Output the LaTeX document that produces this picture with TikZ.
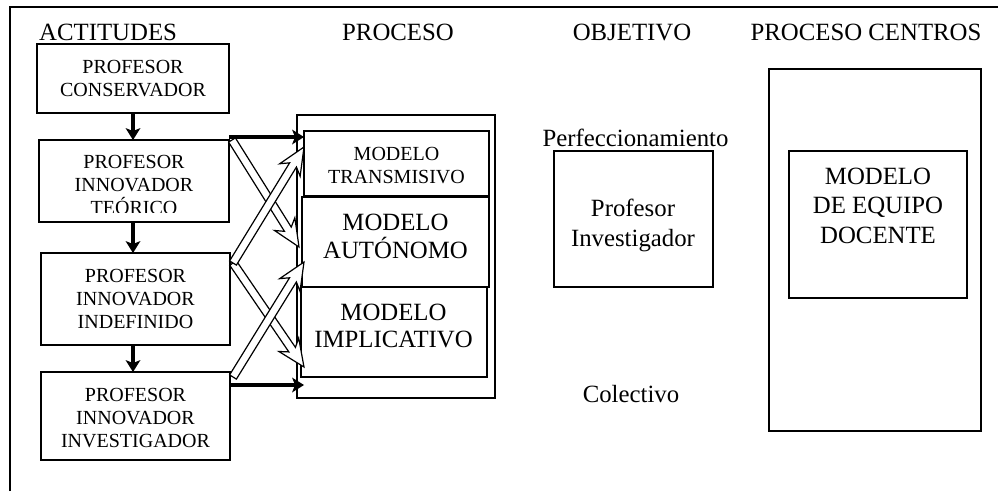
\documentclass[tikz,border=0pt]{standalone}
\usepackage{fontspec}
\setmainfont{Liberation Serif}
\usetikzlibrary{arrows.meta,calc}
\begin{document}
\begin{tikzpicture}[x=1pt,y=-1pt,
  box/.style={draw, line width=1.2pt, rectangle, inner sep=0pt, outer sep=0pt},
  sm/.style={anchor=base, inner sep=0pt, font=\fontsize{20}{24}\selectfont},
  lg/.style={anchor=base, inner sep=0pt, font=\fontsize{24.8}{28}\selectfont},
  blk/.style={line width=4.5pt, -{Stealth[length=12pt,width=15pt,inset=3pt,line width=0pt]}},
  hollow/.style={draw, fill=white, line width=1.2pt, line join=miter}]
\useasboundingbox (0,0) rectangle (998,491);
% outer frame
\draw[line width=1.3pt] (10,491) -- (10,7) -- (998,7);
% headers
\node[lg, anchor=base west] (h1) at (39,40) {ACTITUDES};
\node[lg] (h2) at (398,40) {PROCESO};
\node[lg] (h3) at (632,40) {OBJETIVO};
\node[lg] (h4) at (866,40) {PROCESO CENTROS};
% left column boxes
\node[box, minimum width=192, minimum height=69] (b1) at (133,78.5) {};
\node[box, minimum width=190, minimum height=82] (b2) at (134,181) {};
\node[box, minimum width=189, minimum height=92] (b3) at (135.5,299) {};
\node[box, minimum width=189, minimum height=88] (b4) at (135.5,416) {};
\node[sm] (b1a) at (133,73) {PROFESOR};
\node[sm] (b1b) at (133,96) {CONSERVADOR};
\node[sm] (b2a) at (134,168) {PROFESOR};
\node[sm] (b2b) at (134,191) {INNOVADOR};
\begin{scope}
  \clip (40,141) rectangle (228,212);
  \node[sm] (b2c) at (134,214) {TEÓRICO};
\end{scope}
\node[sm] (b3a) at (135.5,282) {PROFESOR};
\node[sm] (b3b) at (135.5,305) {INNOVADOR};
\node[sm] (b3c) at (135.5,328) {INDEFINIDO};
\node[sm] (b4a) at (135.5,401) {PROFESOR};
\node[sm] (b4b) at (135.5,424) {INNOVADOR};
\node[sm] (b4c) at (135.5,447) {INVESTIGADOR};
% process column
\node[box, minimum width=198, minimum height=283] (P) at (396,256.5) {};
\node[box, minimum width=185, minimum height=65] (m1) at (396.5,163.5) {};
\node[box, minimum width=187, minimum height=90] (m2) at (395.5,242) {};
\node[box, minimum width=186, minimum height=90] (m3) at (394,332) {};
\node[sm] (m1a) at (396.5,160) {MODELO};
\node[sm] (m1b) at (396.5,183) {TRANSMISIVO};
\node[lg] (m2a) at (395.5,230) {MODELO};
\node[lg] (m2b) at (395.5,258) {AUTÓNOMO};
\node[lg] (m3a) at (393.5,320) {MODELO};
\node[lg] (m3b) at (393.5,347) {IMPLICATIVO};
% objective column
\node[lg] (per) at (635.5,146) {Perfeccionamiento};
\node[box, minimum width=159, minimum height=136] (pi) at (633.5,219) {};
\node[lg] (pia) at (633,216) {Profesor};
\node[lg] (pib) at (633,246) {Investigador};
\node[lg] (col) at (631,402) {Colectivo};
% centres column
\node[box, minimum width=212, minimum height=362] (C) at (875,250) {};
\node[box, minimum width=178, minimum height=147] (Ci) at (878,224.5) {};
\node[lg] (Cia) at (878,184) {MODELO};
\node[lg] (Cib) at (878,213) {DE EQUIPO};
\node[lg] (Cic) at (878,243) {DOCENTE};
% hollow arrow end points
\coordinate (s1) at ($(b2.north east)+(3,0)$);
\coordinate (t1) at ($(m2.west)+(-3,5)$);
\coordinate (s2) at ($(b3.north east)+(3,10)$);
\coordinate (t2) at ($(m1.west)+(0,-16.5)$);
\coordinate (s3) at ($(b3.north east)+(3,10)$);
\coordinate (t3) at ($(m3.west)+(3,35)$);
\coordinate (s4) at ($(b4.north east)+(3,5)$);
\coordinate (t4) at ($(m2.west)+(2,20)$);
\foreach \s/\e in {s1/t1, s3/t3, s2/t2, s4/t4} {
  \draw[hollow] let \p1=(\s), \p2=(\e),
      \n1={atan2(\y2-\y1,\x2-\x1)}, \n2={veclen(\x2-\x1,\y2-\y1)} in
    [shift={(\p1)}, rotate=\n1]
    (0pt,4pt) -- ({\n2*1pt-21pt},4pt) -- ({\n2*1pt-27pt},12pt) -- ({\n2*1pt},0pt)
    -- ({\n2*1pt-27pt},-12pt) -- ({\n2*1pt-21pt},-4pt) -- (0pt,-4pt) -- cycle;
}
% black arrows
\draw[blk] (b1.south) -- (b1.south |- b2.north);
\draw[blk] (b2.south -| b1.south) -- (b1.south |- b3.north);
\draw[blk] (b3.south -| b1.south) -- (b1.south |- b4.north);
\coordinate (k1) at ($(b2.north east)+(0,-3)$);
\coordinate (k2) at ($(b4.north east)+(0,13)$);
\draw[blk] (k1) -- (k1 -| m1.west);
\draw[blk] (k2) -- (k2 -| m1.west);
\end{tikzpicture}
\end{document}
